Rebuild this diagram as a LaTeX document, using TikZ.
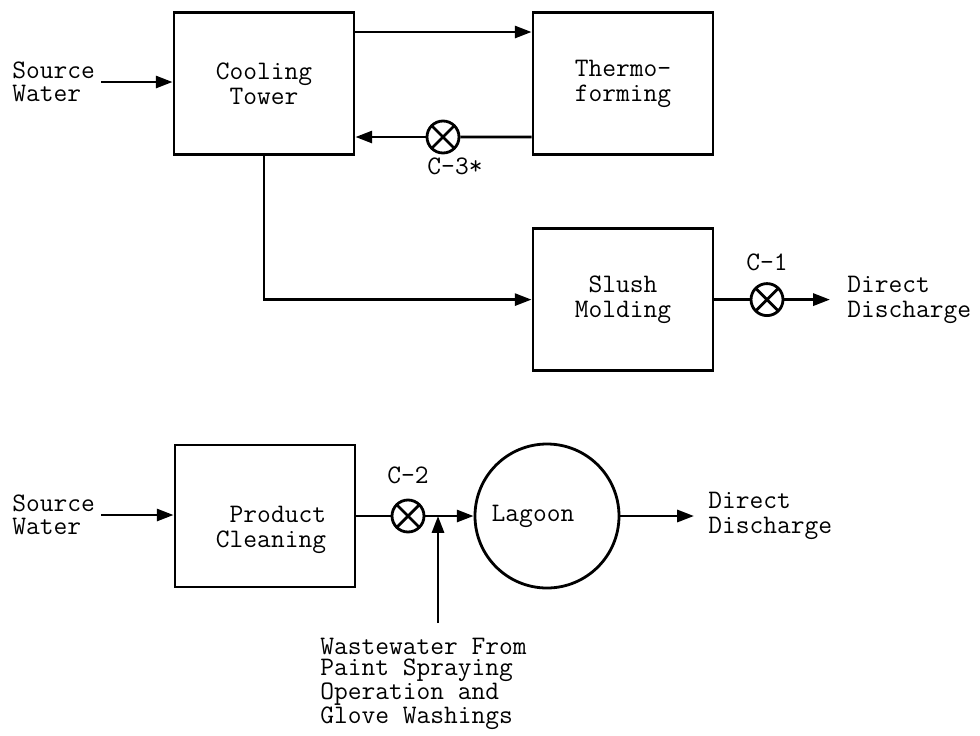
\documentclass[tikz,border=0pt]{standalone}
\usepackage{tikz}
\usetikzlibrary{shapes.geometric, arrows.meta, positioning}
\tikzstyle{process} = [
    rectangle,
    minimum width=4.5cm,
    minimum height=3.55cm,
    align=center,
    line width=2pt,
    draw=black
]
\tikzstyle{pond} = [
    circle,
    minimum size=3.6cm,
    line width=2pt,
    draw=black
]
\tikzstyle{valve} = [
    circle,
    minimum size=0.8cm,
    inner sep=0pt,
    line width=2pt,
    draw=black,
    path picture={
        \draw[line width=2pt]
            (path picture bounding box.north west) -- (path picture bounding box.south east)
            (path picture bounding box.south west) -- (path picture bounding box.north east);
    }
]
\tikzstyle{note} = [align=left, inner sep=0.15cm]
\tikzstyle{tag} = [inner sep=2pt]
\tikzstyle{line} = [line width=2pt]
\tikzstyle{arrow} = [line width=2pt, -{Triangle[length=0.42cm,width=0.3cm]}]

\begin{document}
\begin{tikzpicture}[font=\ttfamily\fontsize{19}{18}\selectfont]

\useasboundingbox (0,0) rectangle (24.5,-18.375);

% upper flow
\node (cooling) [process] at (6.6,-2.09) {Cooling\\Tower};

\node (thermo) [process, align=left] at (15.575,-2.09) {Thermo-\\forming};

\node (slush) [process] at (15.575,-7.49) {Slush\\Molding};

\node (src1) [note, anchor=west, font=\ttfamily\fontsize{19}{16}\selectfont]
at (0.15,-2.05) {Source\\Water};

\node (c3) [valve] at (11.075,-3.425) {};
\node (c3tag) [tag, below=0cm of c3, xshift=0.3cm] {C-3*};

\node (c1) [valve] at (19.175,-7.49) {};
\node (c1tag) [tag, above=0.2cm of c1] {C-1};

\node (dd1) [note, anchor=west] at (21.025,-7.49) {Direct\\Discharge};

\draw [arrow] (src1.east) -- (src1.east -| cooling.west);
\draw [arrow] ([yshift=1.29cm]cooling.east) -- ([yshift=1.29cm]thermo.west);
\draw [line] ([yshift=-1.335cm]thermo.west) -- (c3);
\draw [arrow] (c3) -- (c3 -| cooling.east);
\draw [arrow] (cooling.south) |- (slush.west);
\draw [line] (slush) -- (c1);
\draw [arrow] (c1) -- ([xshift=-0.275cm]dd1.west);

% lower flow
\node (prodclean) [process] at (6.625,-12.9) {};
\node (pctext) [align=right] at (6.775,-13.25) {Product\\Cleaning};

\node (src2) [note, anchor=west, font=\ttfamily\fontsize{19}{16}\selectfont]
at (0.15,-12.875) {Source\\Water};

\node (c2) [valve] at (10.2,-12.9) {};
\node (c2tag) [tag, above=0.3cm of c2] {C-2};

\coordinate (junc) at (10.95,-12.9);

\node (lagoon) [pond, label={[xshift=-0.35cm]center:Lagoon}] at (13.675,-12.9) {};

\node (dd2) [note, anchor=west] at (17.55,-12.9) {Direct\\Discharge};

\node (ww) [note, anchor=north west, font=\ttfamily\fontsize{19}{15}\selectfont]
at (7.85,-15.8) {Wastewater From\\Paint Spraying\\Operation and\\Glove Washings};

\coordinate (wwtop) at (10.95,-15.575);

\draw [arrow] (src2.east) -- (src2.east -| prodclean.west);
\draw [line] (prodclean) -- (c2);
\draw [arrow] (c2) -- (lagoon);
\draw [arrow] (wwtop) -- (junc);
\draw [arrow] (lagoon) -- ([xshift=-0.2cm]dd2.west);

\end{tikzpicture}
\end{document}
